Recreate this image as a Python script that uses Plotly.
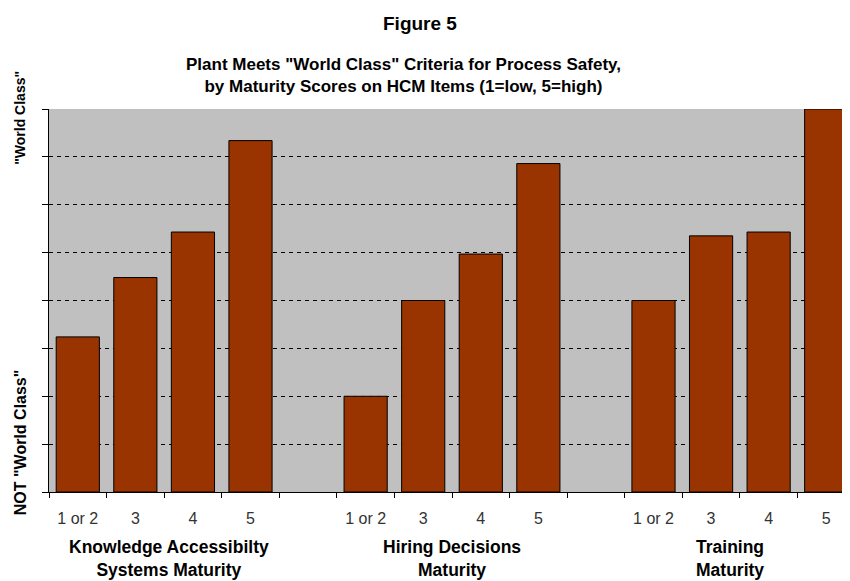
import plotly.graph_objects as go

# ---- data ----
groups = ["Knowledge Accessibilty<br>Systems Maturity",
          "Hiring Decisions<br>Maturity",
          "Training<br>Maturity"]
levels = ["1 or 2", "3", "4", "5"]
knowledge = [3.24, 4.48, 5.43, 7.34]
hiring = [2.0, 4.0, 4.97, 6.86]
training = [4.0, 5.35, 5.43, 8.0]
series = [knowledge, hiring, training]

title_text = "<b>Figure 5</b>"
subtitle_text = ("<b>Plant Meets \"World Class\" Criteria for Process Safety,<br>"
                 "by Maturity Scores on HCM Items (1=low, 5=high)</b>")
y_top_label = "<b>\"World Class\"</b>"
y_bottom_label = "<b>NOT \"World Class\"</b>"

# ---- positions (category slots with an empty slot between groups) ----
slot = len(levels) + 1
xs, ys, labels = [], [], []
for gi, vals in enumerate(series):
    for li, v in enumerate(vals):
        xs.append(gi * slot + li)
        ys.append(v)
        labels.append(levels[li])
n_slots = len(series) * slot - 1
boundaries = [b - 0.5 for b in range(n_slots + 1)]

fig = go.Figure()
fig.add_trace(go.Bar(
    x=xs, y=ys, width=0.75,
    marker=dict(color="#993300", line=dict(color="#000000", width=1)),
    hoverinfo="skip", showlegend=False,
))

FONT = "Liberation Sans, Arial, sans-serif"

fig.update_layout(
    width=850, height=581,
    margin=dict(l=41, r=3, t=101, b=97),
    paper_bgcolor="white",
    plot_bgcolor="#C0C0C0",
    font=dict(family=FONT, color="#000"),
    showlegend=False,
    xaxis=dict(
        range=[-0.5, n_slots - 0.5],
        tickmode="array", tickvals=xs, ticktext=labels,
        ticks="", showgrid=False, zeroline=False,
        showline=True, linecolor="#000", linewidth=1,
        tickfont=dict(family=FONT, size=16, color="#333"),
        ticklabelstandoff=12,
        minor=dict(tickmode="array", tickvals=boundaries, ticks="outside",
                   ticklen=5, tickwidth=1, tickcolor="#000", showgrid=False),
    ),
    yaxis=dict(
        range=[0, 8], tickmode="array", tickvals=list(range(9)),
        ticks="outside", ticklen=6, tickwidth=1, tickcolor="#000",
        showticklabels=False, showgrid=False, zeroline=False,
        showline=True, linecolor="#000", linewidth=1,
        minor=dict(tickmode="array", tickvals=list(range(1, 8)), ticks="",
                   showgrid=True, gridcolor="#000", gridwidth=1,
                   griddash="4px,4px"),
    ),
)

annotations = [
    dict(text=title_text, xref="paper", yref="paper", x=0.46, y=1,
         yshift=86, xanchor="center", yanchor="middle", showarrow=False,
         font=dict(family=FONT, size=19, color="#000")),
    dict(text=subtitle_text, xref="paper", yref="paper", x=0.44, y=1,
         yshift=34, xanchor="center", yanchor="middle", showarrow=False,
         font=dict(family=FONT, size=17, color="#000")),
    dict(text=y_top_label, xref="paper", yref="paper", x=0, y=0.977,
         xshift=-29, xanchor="center", yanchor="middle", textangle=-90,
         showarrow=False, font=dict(family=FONT, size=14, color="#000")),
    dict(text=y_bottom_label, xref="paper", yref="paper", x=0, y=0.13,
         xshift=-29, xanchor="center", yanchor="middle", textangle=-90,
         showarrow=False, font=dict(family=FONT, size=16, color="#000")),
]
group_xshift = [5, 0, -10]
for gi, g in enumerate(groups):
    center = gi * slot + (len(levels) - 1) / 2
    annotations.append(dict(
        text="<b>" + g + "</b>", xref="x", yref="paper", x=center, y=0,
        yshift=-43, xshift=group_xshift[gi], xanchor="center", yanchor="top",
        showarrow=False, font=dict(family=FONT, size=17.5, color="#000")))
fig.update_layout(annotations=annotations)

fig.write_html("out.html")
